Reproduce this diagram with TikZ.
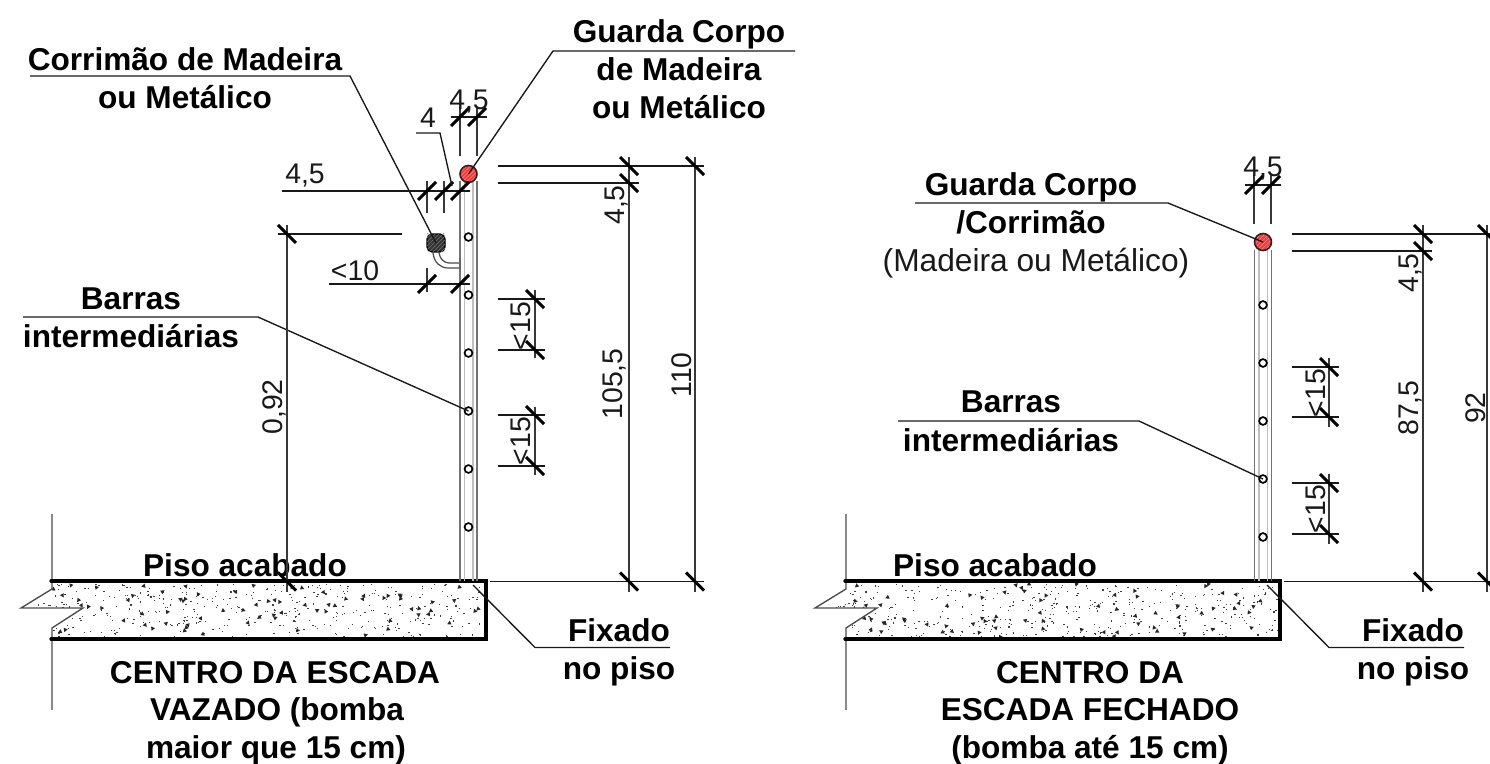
\documentclass[tikz,border=0pt]{standalone}
\usepackage{fontspec}
\setmainfont{Liberation Sans}
\tikzset{
  x=0.5pt,y=-0.5pt,
  ln/.style={line width=0.68pt,black!90},
  tk/.style={line width=1.55pt,black},
  ex/.style={line width=0.68pt,black!78},
  bt/.style={font=\fontsize{15.8}{18}\selectfont\bfseries,inner sep=0pt,text=black,anchor=base,yshift=-5.6pt},
  dt/.style={font=\fontsize{14.2}{16}\selectfont,inner sep=0pt,text=black!90,anchor=base,yshift=-5pt},
  vt/.style={font=\fontsize{14.2}{16}\selectfont,inner sep=0pt,text=black!90,anchor=base,xshift=5pt,rotate=90},
  slabline/.style={line width=1.6pt,black,line cap=round},
  railout/.style={line width=0.65pt,black!55},
  railin/.style={line width=0.55pt,black!25},
  bar/.style={circle,draw=black,line width=0.85pt,fill=white,minimum size=3.9pt,inner sep=0pt},
}
\newcommand{\Tk}[2]{\draw[tk] (#1-9,#2+9) -- (#1+9,#2-9);}
\newcommand{\TkV}[2]{\draw[tk] (#1-9,#2-9) -- (#1+9,#2+9);}
\newcommand{\Slab}[2]{% #1 x shift, #2 seed
 \begin{scope}[xshift=#1*0.5pt]
  \begin{scope}
   \clip (52,583) rectangle (484,637);
   \pgfmathsetseed{#2}
   \foreach \i in {1,...,400}{
     \pgfmathsetmacro\px{53+430*rnd}\pgfmathsetmacro\py{584+53*rnd}
     \fill[black!75] (\px,\py) rectangle ++(1.3,1.1);
   }
   \foreach \i in {1,...,75}{
     \pgfmathsetmacro\px{53+430*rnd}\pgfmathsetmacro\py{584+53*rnd}\pgfmathsetmacro\pa{360*rnd}
     \fill[black!85,rotate around={\pa:(\px,\py)}] (\px-2.2,\py+1.5) -- (\px+2.2,\py+1.5) -- (\px,\py-2.2) -- cycle;
   }
  \end{scope}
  \fill[white] (20,586) -- (52,586) -- (52,589) -- (21,608) -- (83,608) -- (52,628) -- (52,632) -- (20,632) -- cycle;
  \begin{scope}
   \pgfmathsetseed{#2}
   \foreach \i in {1,...,10}{
     \pgfmathsetmacro\px{36+40*rnd}\pgfmathsetmacro\py{601+6*rnd}
     \fill[black!75] (\px,\py) rectangle ++(1.3,1.1);
   }
  \end{scope}
  \draw[ex,black!70] (52,514) -- (52,589) -- (21,608) -- (83,608) -- (52,628) -- (52,710);
  \draw[slabline] (51,581) -- (486,581) -- (486,639) -- (51,639);
 \end{scope}}
\newcommand{\Rail}[3]{% #1 x centre, #2 top y, #3 circle y's
  \draw[railout] (#1-8.5,#2) -- (#1-8.5,581) (#1+8.5,#2) -- (#1+8.5,581);
  \draw[railin] (#1-4,#2) -- (#1-4,581) (#1+4.5,#2) -- (#1+4.5,581);
  \foreach \yy in {#3}{\node[bar] at (#1,\yy) {};}
}
\newcommand{\Red}[3]{% name, x, y
  \node[circle,minimum size=8.5pt,inner sep=0pt,fill=red!80!white] (#1) at (#2,#3) {};
  \begin{scope}
   \clip (#2,#3) circle (8.5);
   \foreach \k in {-18,-14,...,18}{\draw[white!60!red,line width=0.25pt] (#2+\k-12,#3+12) -- (#2+\k+12,#3-12);}
  \end{scope}
  \draw[line width=0.8pt,black!85] (#2,#3) circle (8.5);
}
\begin{document}
\begin{tikzpicture}
\useasboundingbox (0,0) rectangle (1490,764);
\fill[white] (0,0) rectangle (1490,764);

%%%%%%%% LEFT
\Slab{0}{11}
\Rail{468.5}{181}{237,295,353,411,469,527}
\Red{gc}{468.5}{174}
% handrail
\draw[line width=0.6pt,black!70] (433,253) .. controls (434,262) and (440,268) .. (448,268) -- (459,268);
\draw[line width=0.6pt,black!70] (439,253) .. controls (440,259) and (444,263) .. (449,263) -- (459,263);
\draw[line width=1pt,black!60] (459.5,259) -- (459.5,269);
\node[rectangle,rounded corners=2.5pt,minimum size=9pt,inner sep=0pt,fill=black!80,draw=black,line width=0.6pt] (cm) at (436,243) {};
\begin{scope}
 \clip (427,234) rectangle (445,252);
 \foreach \k in {-18,-14,...,18}{\draw[black!55,line width=0.25pt] (436+\k-12,243+12) -- (436+\k+12,243-12);}
\end{scope}
% labels
\node[bt] (t1) at (185,59) {Corrimão de Madeira};
\node[bt] (t2) at (185,97) {ou Metálico};
\draw[ln] (30,76) -- (350,76) -- (cm.center);
\node[bt] (t3) at (679,31) {Guarda Corpo};
\node[bt] (t4) at (679,69) {de Madeira};
\node[bt] (t5) at (679,107) {ou Metálico};
\draw[ln] (795,51) -- (553,51) -- (gc.center);
\node[bt] (t6) at (131,298) {Barras};
\node[bt] (t7) at (131,336) {intermediárias};
\coordinate (b1) at (468.5,411);
\draw[ln] (23,317) -- (258,317) -- (b1);
\node[bt] (t8) at (245,565) {Piso acabado};
\node[bt] (t9) at (619,630) {Fixado};
\node[bt] (t10) at (619,668) {no piso};
\coordinate (f1) at (473,585);
\draw[ln] (f1) -- (535,647.5) -- (670,647.5);
\node[bt] (t11) at (275,672) {CENTRO DA ESCADA};
\node[bt] (t12) at (277,709) {VAZADO (bomba};
\node[bt] (t13) at (276,747) {maior que 15 cm)};
% top dim
\draw[ln] (451,117) -- (487,117);
\draw[ex] (460,107) -- (460,156) (477,107) -- (477,156);
\Tk{460}{117}\Tk{477}{117}
\node[dt] (d1) at (469,100) {4,5};
% 4,5 left
\draw[ln] (282,191) -- (470,191);
\draw[ex] (427,181) -- (427,213) (444,181) -- (444,213);
\Tk{427}{191}\Tk{444}{191}\Tk{460}{191}
\node[dt] (d2) at (305,173.5) {4,5};
\draw[ln] (416,133) -- (440,133) -- (452,186);
\node[dt] (d3) at (428,118) {4};
% <10
\draw[ln] (329,284) -- (470,284);
\draw[ex] (427,268) -- (427,292);
\Tk{427}{284}\Tk{460}{284}
\node[dt] (d4) at (355,271) {<10};
% 0,92
\draw[ln] (278,234) -- (402,234);
\draw[ex] (287,225) -- (287,592);
\TkV{287}{234}\TkV{287}{581.5}
\node[vt] (d5) at (272,407) {0,92};
% <15
\draw[ex] (535,290) -- (535,358);
\draw[ln] (498,299) -- (545,299) (498,350) -- (545,350);
\TkV{535}{299}\TkV{535}{350}
\node[vt] (d6) at (520,326) {<15};
\draw[ex] (535,407) -- (535,475);
\draw[ln] (498,415) -- (545,415) (498,466) -- (545,466);
\TkV{535}{415}\TkV{535}{466}
\node[vt] (d7) at (520,441) {<15};
% heights
\draw[ln] (498,166) -- (704,166) (498,183) -- (639,183) (490,581.5) -- (704,581.5);
\draw[ex] (629,157) -- (629,592) (695,157) -- (695,592);
\TkV{629}{166}\TkV{629}{183}\TkV{629}{581.5}\TkV{695}{166}\TkV{695}{581.5}
\node[vt] (d8) at (614,205) {4,5};
\node[vt] (d9) at (612,384) {105,5};
\node[vt] (d10) at (681,375) {110};

%%%%%%%% RIGHT
\Slab{794}{29}
\Rail{1263}{250}{305,363,421,479,537}
\Red{gd}{1263}{242}
\node[bt] (r1) at (1031,184) {Guarda Corpo};
\node[bt] (r2) at (1031,222) {/Corrimão};
\node[dt,font=\fontsize{15.85}{18}\selectfont,yshift=-0.6pt] (r3) at (1036,260) {(Madeira ou Metálico)};
\draw[ln] (915,203) -- (1168,203) -- (gd.center);
\node[bt] (r4) at (1011,401) {Barras};
\node[bt] (r5) at (1011,440) {intermediárias};
\coordinate (b2) at (1263,479);
\draw[ln] (898,421) -- (1139,421) -- (b2);
\node[bt] (r6) at (995,565) {Piso acabado};
\node[bt] (r7) at (1413,630) {Fixado};
\node[bt] (r8) at (1413,668) {no piso};
\coordinate (f2) at (1267,585);
\draw[ln] (f2) -- (1329,647.5) -- (1464,647.5);
\node[bt] (r9) at (1090,672) {CENTRO DA};
\node[bt] (r10) at (1090,709) {ESCADA FECHADO};
\node[bt] (r11) at (1090,747) {(bomba até 15 cm)};
% top
\draw[ln] (1245,185) -- (1281,185);
\draw[ex] (1254,175) -- (1254,224) (1271,175) -- (1271,224);
\Tk{1254}{185}\Tk{1271}{185}
\node[dt] (e1) at (1263,167) {4,5};
% <15
\draw[ex] (1329,358) -- (1329,427);
\draw[ln] (1292,367) -- (1339,367) (1292,417) -- (1339,417);
\TkV{1329}{367}\TkV{1329}{417}
\node[vt] (e2) at (1315,393) {<15};
\draw[ex] (1329,474) -- (1329,544);
\draw[ln] (1292,483) -- (1339,483) (1292,534) -- (1339,534);
\TkV{1329}{483}\TkV{1329}{534}
\node[vt] (e3) at (1315,509) {<15};
% heights
\draw[ln] (1292,234) -- (1490,234) (1292,251) -- (1432,251) (1284,581.5) -- (1490,581.5);
\draw[ex] (1423,225) -- (1423,592) (1487,225) -- (1487,592);
\TkV{1423}{234}\TkV{1423}{251}\TkV{1423}{581.5}\TkV{1487}{234}\TkV{1487}{581.5}
\node[vt] (e4) at (1408,273) {4,5};
\node[vt] (e5) at (1408,408) {87,5};
\node[vt] (e6) at (1475,408) {92};
\end{tikzpicture}
\end{document}
